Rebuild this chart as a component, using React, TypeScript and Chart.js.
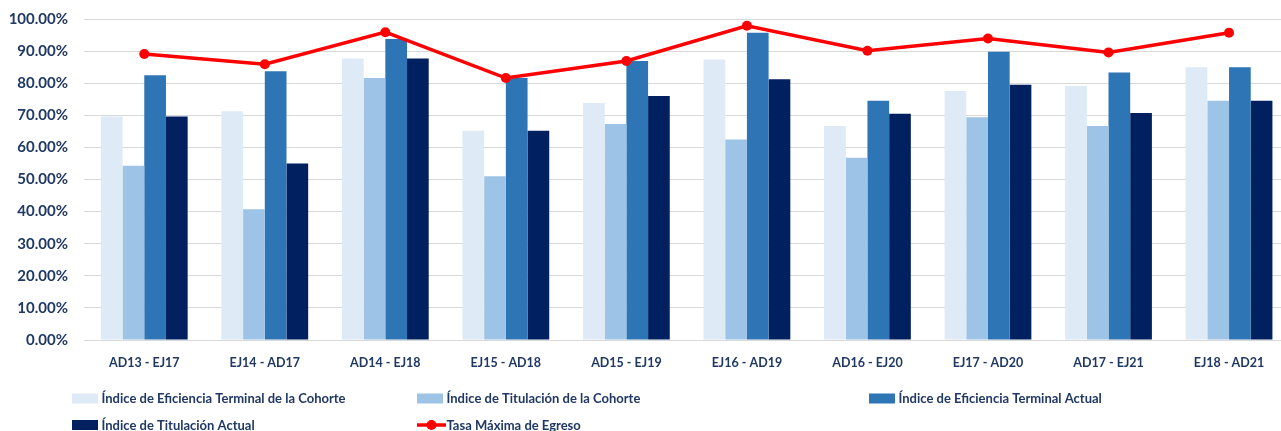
import React, { useEffect, useRef } from "react";
import { Chart, registerables } from "chart.js";

Chart.register(...registerables);

const categories = [
  "AD13 - EJ17",
  "EJ14 - AD17",
  "AD14 - EJ18",
  "EJ15 - AD18",
  "AD15 - EJ19",
  "EJ16 - AD19",
  "AD16 - EJ20",
  "EJ17 - AD20",
  "AD17 - EJ21",
  "EJ18 - AD21",
];

const eficienciaCohorte = [69.6, 71.3, 87.7, 65.2, 73.8, 87.4, 66.7, 77.6, 79.1, 85.0];
const titulacionCohorte = [54.3, 40.7, 81.6, 51.0, 67.3, 62.5, 56.8, 69.4, 66.7, 74.5];
const eficienciaActual = [82.5, 83.7, 93.8, 81.6, 86.9, 95.7, 74.5, 89.8, 83.3, 85.0];
const titulacionActual = [69.6, 55.0, 87.7, 65.2, 76.0, 81.2, 70.5, 79.5, 70.7, 74.5];
const tasaMaxima = [89.1, 85.9, 95.9, 81.6, 86.9, 97.9, 90.1, 93.9, 89.6, 95.7];

const yTicks = [0, 10, 20, 30, 40, 50, 60, 70, 80, 90, 100];

const TEXT = "#1F3864";
const FONT = "Lato";

const legendSlots = [
  { x: 72, y: 398.5 },
  { x: 417, y: 398.5 },
  { x: 869, y: 398.5 },
  { x: 72, y: 425 },
  { x: 417, y: 425 },
];

const legendPlugin = {
  id: "excelLegend",
  afterDraw(chart: any) {
    const ctx = chart.ctx;
    ctx.save();
    ctx.font = `bold 13px ${FONT}`;
    ctx.textBaseline = "middle";
    ctx.textAlign = "left";
    chart.data.datasets.forEach((ds: any, i: number) => {
      const s = legendSlots[i];
      if (!s) return;
      if (ds.type === "line") {
        ctx.strokeStyle = ds.borderColor;
        ctx.lineWidth = 3.5;
        ctx.beginPath();
        ctx.moveTo(s.x, s.y);
        ctx.lineTo(s.x + 29, s.y);
        ctx.stroke();
        ctx.fillStyle = ds.borderColor;
        ctx.beginPath();
        ctx.arc(s.x + 14.5, s.y, 5, 0, Math.PI * 2);
        ctx.fill();
      } else {
        ctx.fillStyle = ds.backgroundColor;
        ctx.fillRect(s.x, s.y - 5, 26, 10);
      }
      ctx.fillStyle = TEXT;
      ctx.fillText(ds.label, s.x + 29.5, s.y + 0.5);
    });
    ctx.restore();
  },
};

export default function App() {
  const ref = useRef<HTMLCanvasElement | null>(null);

  useEffect(() => {
    document.documentElement.style.overflow = "hidden";
    document.body.style.overflow = "hidden";
    if (!ref.current) return;
    const barCommon = {
      type: "bar" as const,
      order: 1,
      barPercentage: 1,
      categoryPercentage: 0.72,
      borderWidth: 0,
    };
    const chart = new Chart(ref.current, {
      type: "bar",
      data: {
        labels: categories,
        datasets: [
          { ...barCommon, label: "Índice de Eficiencia Terminal de la Cohorte", data: eficienciaCohorte, backgroundColor: "#DEEAF6" },
          { ...barCommon, label: "Índice de Titulación de la Cohorte", data: titulacionCohorte, backgroundColor: "#9DC3E6" },
          { ...barCommon, label: "Índice de Eficiencia Terminal Actual", data: eficienciaActual, backgroundColor: "#2E75B6" },
          { ...barCommon, label: "Índice de Titulación Actual", data: titulacionActual, backgroundColor: "#002060" },
          {
            type: "line" as const,
            order: 0,
            label: "Tasa Máxima de Egreso",
            data: tasaMaxima,
            borderColor: "#FF0000",
            backgroundColor: "#FF0000",
            borderWidth: 3.5,
            pointRadius: 5,
            pointBackgroundColor: "#FF0000",
            pointBorderWidth: 0,
            tension: 0,
          },
        ] as any,
      },
      options: {
        responsive: false,
        animation: false,
        layout: { padding: { top: 19, right: 10.7, left: 0, bottom: 0 } },
        plugins: { legend: { display: false }, tooltip: { enabled: false } },
        scales: {
          x: {
            grid: { display: false, drawTicks: false },
            border: { display: false },
            ticks: {
              color: TEXT,
              font: { family: FONT, size: 12.5, weight: "bold" },
              padding: 15,
              maxRotation: 0,
              autoSkip: false,
            },
            afterFit: (s: any) => {
              s.height = 91;
              s.paddingLeft = 0;
              s.paddingRight = 0;
            },
          },
          y: {
            min: 0,
            max: 100,
            afterBuildTicks: (s: any) => {
              s.ticks = yTicks.map((v) => ({ value: v }));
            },
            grid: { color: "#D9D9D9", lineWidth: 1, drawTicks: false },
            border: { display: false },
            ticks: {
              color: TEXT,
              font: { family: FONT, size: 15, weight: "bold" },
              padding: 16,
              callback: (v: any) => Number(v).toFixed(2) + "%",
            },
            afterFit: (s: any) => {
              s.width = 84;
              s.paddingTop = 0;
              s.paddingBottom = 0;
            },
          },
        },
      },
      plugins: [legendPlugin],
    });
    return () => chart.destroy();
  }, []);

  return (
    <div style={{ position: "absolute", left: 0, top: 0, width: 1300, height: 431 }}>
      <canvas ref={ref} width={1300} height={431} />
    </div>
  );
}
